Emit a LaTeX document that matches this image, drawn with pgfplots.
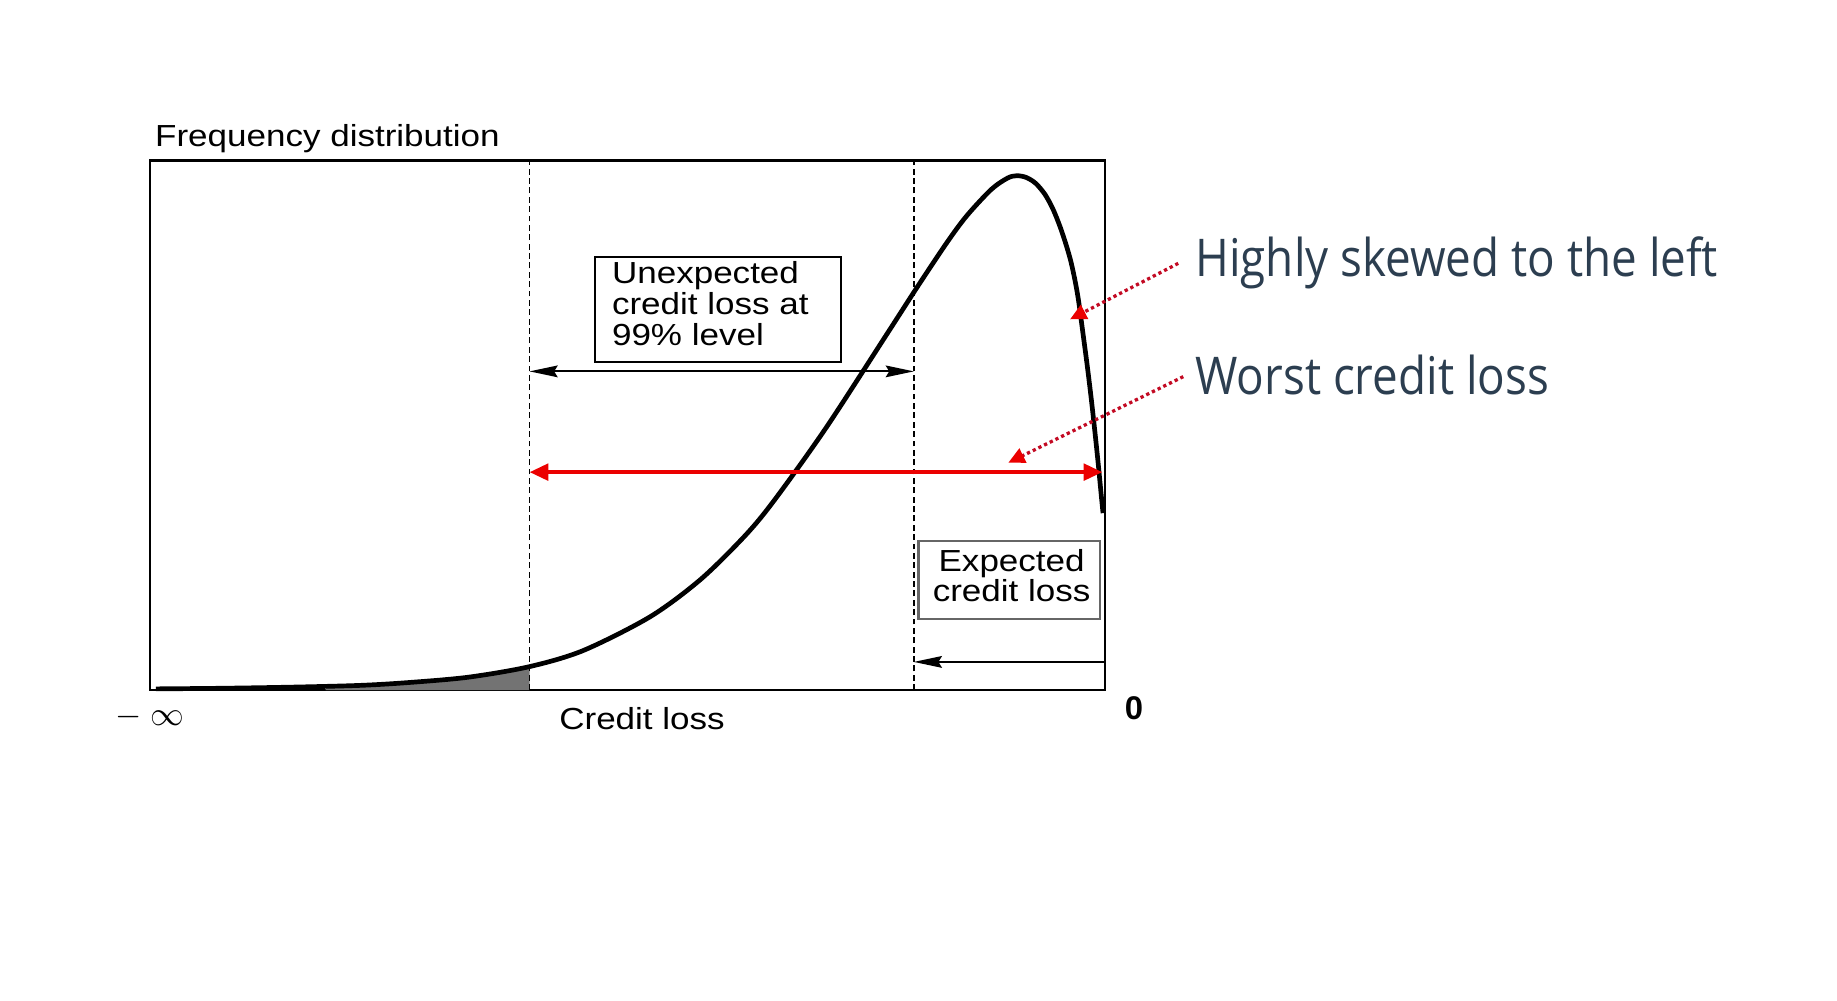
\documentclass[border=0pt]{standalone}
\usepackage{pgfplots}
\pgfplotsset{compat=1.18}
\usetikzlibrary{arrows.meta}
\usepackage{fontspec}
\setmainfont{Liberation Sans}
\newfontfamily\figfont{Liberation Sans}[FakeStretch=1.15]
\newfontfamily\annofont{Open Sans}[FakeStretch=0.88]
\definecolor{annotext}{RGB}{44,62,80}
\definecolor{lossred}{RGB}{235,0,0}
\definecolor{dotred}{RGB}{195,10,35}
\newcommand{\figsize}{\fontsize{13}{13.25}\selectfont}

\begin{document}
\begin{tikzpicture}
\path[use as bounding box] (0,0) rectangle (784pt,-427pt);
\begin{axis}[
  at={(64pt,-294.5pt)}, anchor=south west,
  scale only axis, width=407.5pt, height=226pt,
  xmin=0, xmax=815, ymin=0, ymax=452,
  xtick=\empty, ytick=\empty,
  axis line style={line width=0.9pt},
  clip=false,
]
% shaded left tail beyond the 99% level
\addplot[fill=black!55, draw=none, smooth] coordinates {
  (150,3) (180,4) (222,6.5) (272,11) (324,20)} \closedcycle;

% frequency distribution of credit loss
\addplot[line width=2pt, smooth, tension=0.5] coordinates {
  (5,1) (60,1.5) (122,2.5) (180,4) (222,6.5) (272,11) (324,20)
  (370,33.8) (427,62.6) (470,94.4) (508,131.8) (533,162.1) (577,223.7)
  (629,303.8) (655,344.1) (680,381.6) (697,404.6) (718,427.2) (732,437)
  (740,439) (748,437.5) (756,432.5) (764,423) (771,410) (777,395)
  (782,380) (786,366) (789.5,350) (792.5,333) (796.3,305) (800,277)
  (803.4,249) (806.5,221) (809.4,193) (812.1,165) (813.5,151)};

% quantile markers
\draw[dash pattern=on 2.5pt off 1.5pt, line width=0.8pt]
  (axis cs:324,0) -- (axis cs:324,452);
\draw[dash pattern=on 2.5pt off 1.5pt, line width=0.8pt]
  (axis cs:652,0) -- (axis cs:652,452);

% unexpected loss
\draw[line width=0.8pt] (axis cs:380,280) rectangle (axis cs:590,370);
\node[anchor=base west, inner sep=0, font=\figfont\figsize] at (axis cs:394,347.2) {Unexpected};
\node[anchor=base west, inner sep=0, font=\figfont\figsize] at (axis cs:394,320.7) {credit loss at};
\node[anchor=base west, inner sep=0, font=\figfont\figsize] at (axis cs:394,294) {99\% level};
\draw[line width=0.75pt,
  {Stealth[length=12pt,width=5pt,inset=1.5pt]}-{Stealth[length=12pt,width=5pt,inset=1.5pt]}]
  (axis cs:324,272) -- (axis cs:652,272);

% expected loss
\draw[line width=0.9pt, black!60] (axis cs:656,61) rectangle (axis cs:811,127);
\node[anchor=base, inner sep=0, font=\figfont\figsize] at (axis cs:735.5,101) {Expected};
\node[anchor=base, inner sep=0, font=\figfont\figsize] at (axis cs:735.5,75.5) {credit loss};
\draw[line width=0.75pt, -{Stealth[length=12pt,width=5pt,inset=1.5pt]}]
  (axis cs:815,24) -- (axis cs:652,24);

% worst credit loss
\draw[lossred, line width=1.7pt,
  {Triangle[length=8pt,width=7pt]}-{Triangle[length=8pt,width=7pt]}]
  (axis cs:324,186) -- (axis cs:813,186);

% callouts
\draw[dotred, line width=1.4pt, dash pattern=on 1.4pt off 1.3pt,
  -{Triangle[length=7pt,width=6.5pt,color=lossred]}]
  (axis cs:877.7,364.2) -- (axis cs:785.3,316.4);
\draw[dotred, line width=1.4pt, dash pattern=on 1.4pt off 1.3pt,
  -{Triangle[length=7pt,width=6.5pt,color=lossred]}]
  (axis cs:882,267.5) -- (axis cs:732.6,194);
\node[anchor=base west, inner sep=0, text=annotext,
  font=\annofont\fontsize{22.2}{26}\selectfont] at (axis cs:892,353) {Highly skewed to the left};
\node[anchor=base west, inner sep=0, text=annotext,
  font=\annofont\fontsize{22.2}{26}\selectfont] at (axis cs:892,252) {Worst credit loss};

% axis annotations
\node[anchor=base west, inner sep=0, font=\figfont\figsize] at (axis cs:4,463.8) {Frequency distribution};
\node[anchor=base west, inner sep=0, font=\figfont\figsize] at (axis cs:349,-34) {Credit loss};
\node[anchor=center, inner sep=0, font=\fontsize{14}{16}\selectfont] at (axis cs:0,-23) {$-\;\infty$};
\node[anchor=center, inner sep=0, font=\bfseries\fontsize{14}{16}\selectfont] at (axis cs:840,-15.6) {0};
\end{axis}
\end{tikzpicture}
\end{document}
